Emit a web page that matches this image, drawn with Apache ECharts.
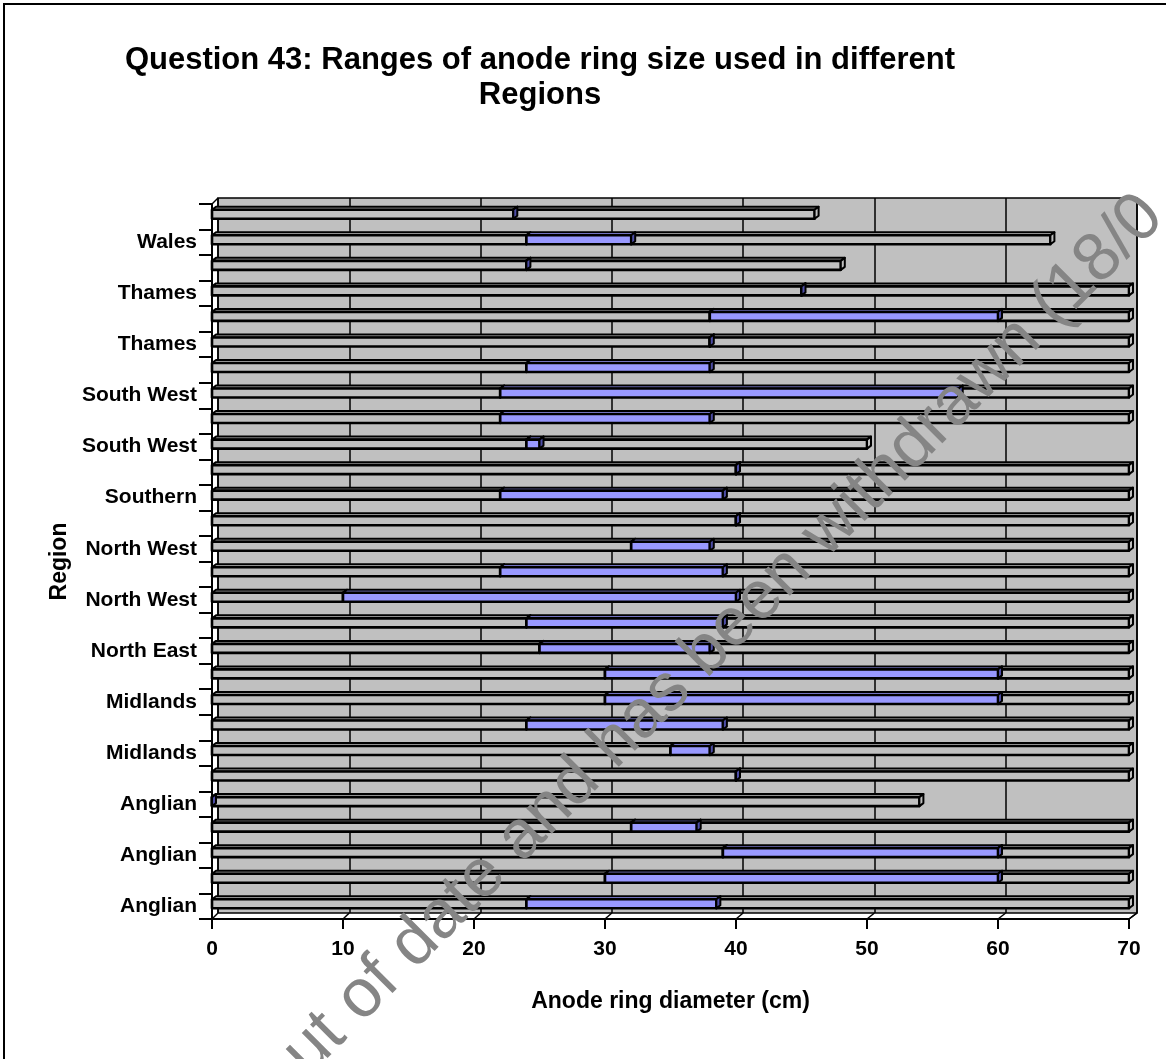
<!DOCTYPE html>
<html>
<head>
<meta charset="utf-8">
<script src="https://cdn.jsdelivr.net/npm/echarts@6/dist/echarts.min.js"></script>
<style>
html,body{margin:0;padding:0;background:#fff;}
#chart{width:1166px;height:1059px;}
</style>
</head>
<body>
<div id="chart"></div>
<script>
// ---- data (index 0 = bottom row) ----
const categories = ['Anglian','','Anglian','','Anglian','','Midlands','','Midlands','',
  'North East','','North West','','North West','','Southern','','South West','',
  'South West','','Thames','','Thames','','Wales',''];
const rangeLow  = [24,30,39,32,0,40,35,24,30,30,25,24,10,22,32,40,22,40,24,22,22,24,38,38,45,24,24,23];
const rangeHigh = [38.5,60,60,37,0,40,38,39,60,60,38,39,40,39,38,40,39,40,25,38,57,38,38,60,45,24,32,23];
const barEnd    = [70,70,70,70,54,70,70,70,70,70,70,70,70,70,70,70,70,70,50,70,70,70,70,70,70,48,64,46];
const xTickValues = [0,10,20,30,40,50,60,70];

const titleText = 'Question 43: Ranges of anode ring size used in different\nRegions';
const xName = 'Anode ring diameter (cm)';
const yName = 'Region';
const watermark = 'out of date and has been withdrawn (18/0';

// ---- layout ----
const F = {left:212, top:204, right:1129, bottom:919};   // front plane
const D = 6;                                             // 3D depth offset
const FONT = "'Liberation Sans', Arial, Helvetica, sans-serif";
const BAR_H = 9, DX = 4, DY = 3, SHIFT = -2.5;

const chart = echarts.init(document.getElementById('chart'), null, {renderer:'canvas'});

function makeBox(face, side) {
  return function (params, api) {
    const c = api.value(0);
    const p0 = api.coord([api.value(1), c]);
    const p1 = api.coord([api.value(2), c]);
    const x0 = p0[0], x1 = p1[0];
    const y = p0[1] + SHIFT - BAR_H / 2;
    const st = {stroke:'#000', lineWidth:2, lineJoin:'round'};
    return {type:'group', children:[
      {type:'polygon', shape:{points:[[x0,y],[x0+DX,y-DY],[x1+DX,y-DY],[x1,y]]},
        style:Object.assign({fill:face}, st)},
      {type:'rect', shape:{x:x0, y:y, width:Math.max(x1-x0,0), height:BAR_H},
        style:Object.assign({fill:face}, st, {lineWidth:2.6})},
      {type:'polygon', shape:{points:[[x1,y],[x1+DX,y-DY],[x1+DX,y+BAR_H-DY],[x1,y+BAR_H]]},
        style:Object.assign({fill:side}, st)}
    ]};
  };
}

const seg1 = categories.map((_, i) => [i, 0, rangeLow[i]]);
const seg2 = categories.map((_, i) => [i, rangeLow[i], rangeHigh[i]]);
const seg3 = categories.map((_, i) => [i, rangeHigh[i], barEnd[i]]);

const xMin = xTickValues[0], xMax = xTickValues[xTickValues.length-1];
const xStep = xTickValues[1] - xTickValues[0];

// decorative 3D edges
const deco = [];
const fScale = (F.right - F.left) / (xMax - xMin);
const bScale = (F.right + 8 - (F.left + D)) / (xMax - xMin);
deco.push({type:'line', shape:{x1:F.left, y1:F.top, x2:F.left+D, y2:F.top-D}, style:{stroke:'#000', lineWidth:1.5}});
deco.push({type:'line', shape:{x1:F.right, y1:F.bottom, x2:F.right+8, y2:F.bottom-D}, style:{stroke:'#000', lineWidth:1.5}});
xTickValues.forEach(v => {
  deco.push({type:'line', shape:{x1:F.left + v*fScale, y1:F.bottom, x2:F.left + D + v*bScale, y2:F.bottom-D},
    style:{stroke:'#000', lineWidth:1.5}});
});

const option = {
  animation:false,
  backgroundColor:'#fff',
  title:{
    text:titleText, left:535, top:38, textAlign:'center',
    textStyle:{fontFamily:FONT, fontSize:31, fontWeight:'bold', color:'#000', lineHeight:35}
  },
  grid:[
    {left:F.left, top:F.top, right:1166-F.right, bottom:1059-F.bottom, containLabel:false},
    {left:F.left+D, top:F.top-D, right:1166-(F.right+8), bottom:1059-(F.bottom-D),
     show:true, backgroundColor:'#C0C0C0', borderColor:'#000', borderWidth:1.5, z:0}
  ],
  xAxis:[
    {type:'value', gridIndex:0, min:xMin, max:xMax, interval:xStep,
     axisLine:{show:true, lineStyle:{color:'#000', width:2}},
     axisTick:{show:true, length:10, lineStyle:{color:'#000', width:2}},
     axisLabel:{fontFamily:FONT, fontSize:21, fontWeight:'bold', color:'#000', margin:20},
     splitLine:{show:false},
     name:xName, nameLocation:'middle', nameGap:71,
     nameTextStyle:{fontFamily:FONT, fontSize:23, fontWeight:'bold', color:'#000'}},
    {type:'value', gridIndex:1, min:xMin, max:xMax, interval:xStep,
     axisLine:{show:false}, axisTick:{show:false}, axisLabel:{show:false},
     splitLine:{show:true, lineStyle:{color:'#000', width:1.5}}}
  ],
  yAxis:[
    {type:'category', gridIndex:0, data:categories,
     axisLine:{show:true, lineStyle:{color:'#000', width:2}},
     axisTick:{show:true, interval:0, length:13, alignWithLabel:false, lineStyle:{color:'#000', width:2}},
     axisLabel:{interval:0, fontFamily:FONT, fontSize:21, fontWeight:'bold', color:'#000', margin:15},
     splitLine:{show:false},
     name:yName, nameLocation:'middle', nameGap:141, nameRotate:90,
     nameTextStyle:{fontFamily:FONT, fontSize:23, fontWeight:'bold', color:'#000'}},
    {type:'category', gridIndex:1, data:categories, show:false}
  ],
  graphic:[
    {type:'rect', shape:{x:4, y:4, width:1300, height:1300}, style:{fill:null, stroke:'#000', lineWidth:2}, z:1, silent:true},
    {type:'group', children:deco, z:5, silent:true},
    {type:'text', x:268, y:1091, rotation:Math.PI/4, z:100, silent:true,
     style:{text:watermark, font:'68px ' + FONT, fill:'#858585', textAlign:'left', textVerticalAlign:'middle'}}
  ],
  series:[
    {name:'Below range', type:'custom', xAxisIndex:0, yAxisIndex:0, data:seg1,
     encode:{x:[1,2], y:0}, renderItem:makeBox('#C0C0C0', '#C0C0C0'), z:3},
    {name:'Above range', type:'custom', xAxisIndex:0, yAxisIndex:0, data:seg3,
     encode:{x:[1,2], y:0}, renderItem:makeBox('#C0C0C0', '#C0C0C0'), z:3},
    {name:'Range used', type:'custom', xAxisIndex:0, yAxisIndex:0, data:seg2,
     encode:{x:[1,2], y:0}, renderItem:makeBox('#9999FF', '#4D4DA6'), z:3}
  ]
};
chart.setOption(option);
</script>
</body>
</html>
